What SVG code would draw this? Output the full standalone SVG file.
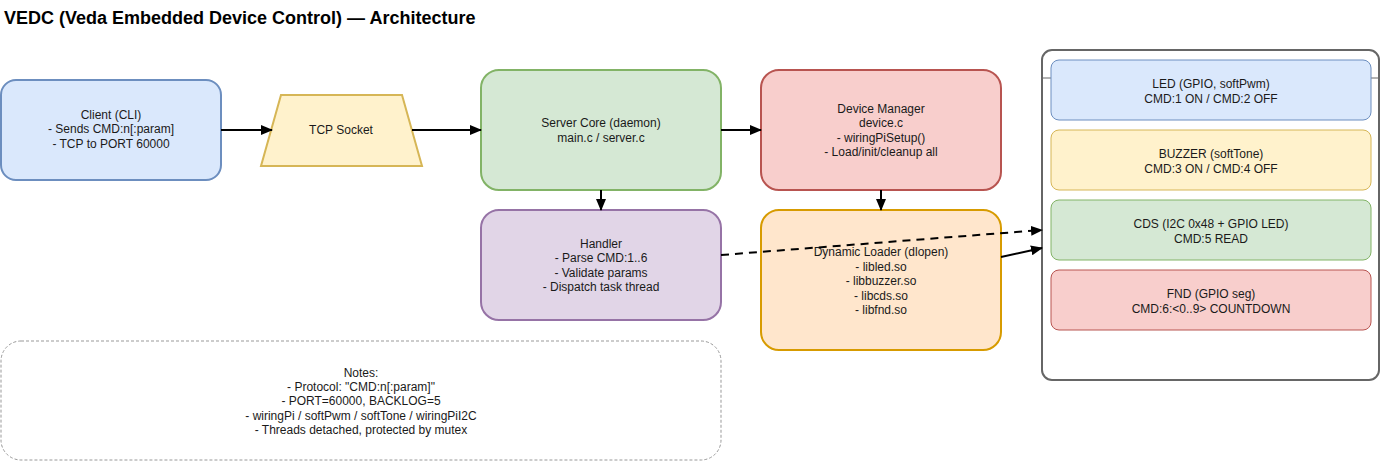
<svg xmlns="http://www.w3.org/2000/svg" width="1382" height="461" viewBox="0 0 1382 461">
<style>
text{font-family:"Liberation Sans",Arial,sans-serif;font-size:12px;fill:#1a1a1a;text-anchor:middle}
.title{font-size:18px;font-weight:bold;text-anchor:start;fill:#000}
.note{font-size:12px}
.c{stroke:#000;stroke-width:2;fill:none}
.box{stroke-width:2}
</style>
<defs>
<marker id="ah" markerWidth="12" markerHeight="10" refX="11" refY="5" orient="auto" markerUnits="userSpaceOnUse">
<path d="M0,0 L12,5 L0,10 Z" fill="#000"/>
</marker>
</defs>
<text class="title" x="4" y="24">VEDC (Veda Embedded Device Control) — Architecture</text>

<g id="client">
<rect class="box" x="1" y="80" width="220" height="100" rx="15" fill="#dae8fc" stroke="#6c8ebf"/>
<text x="111" y="119">Client (CLI)</text>
<text x="111" y="133">- Sends CMD:n[:param]</text>
<text x="111" y="148">- TCP to PORT 60000</text>
</g>
<g id="tcp">
<polygon class="box" points="281,95 402,95 422,166 261,166" fill="#fff2cc" stroke="#d6b656"/>
<text x="341" y="134">TCP Socket</text>
</g>
<g id="server">
<rect class="box" x="481" y="70" width="240" height="120" rx="18" fill="#d5e8d4" stroke="#82b366"/>
<text x="601" y="127">Server Core (daemon)</text>
<text x="601" y="142">main.c / server.c</text>
</g>
<g id="devmgr">
<rect class="box" x="761" y="70" width="240" height="120" rx="18" fill="#f8cecc" stroke="#b85450"/>
<text x="881" y="113">Device Manager</text>
<text x="881" y="127">device.c</text>
<text x="881" y="142">- wiringPiSetup()</text>
<text x="881" y="156">- Load/init/cleanup all</text>
</g>
<g id="handler">
<rect class="box" x="481" y="210" width="240" height="110" rx="18" fill="#e1d5e7" stroke="#9673a6"/>
<text x="601" y="248">Handler</text>
<text x="601" y="262">- Parse CMD:1..6</text>
<text x="601" y="277">- Validate params</text>
<text x="601" y="291">- Dispatch task thread</text>
</g>
<g id="loader">
<rect class="box" x="761" y="210" width="240" height="140" rx="18" fill="#ffe6cc" stroke="#d79b00"/>
<text x="881" y="256">Dynamic Loader (dlopen)</text>
<text x="881" y="271">- libled.so</text>
<text x="881" y="285">- libbuzzer.so</text>
<text x="881" y="300">- libcds.so</text>
<text x="881" y="314">- libfnd.so</text>
</g>
<g id="devices">
<rect x="1042" y="50" width="337" height="330" rx="10" fill="#fff" stroke="#666" stroke-width="2"/>
<line x1="1042" y1="78" x2="1379" y2="78" stroke="#666" stroke-width="1"/>
</g>
<g id="led">
<rect x="1051" y="60" width="320" height="60" rx="8" fill="#dae8fc" stroke="#6c8ebf"/>
<text x="1211" y="88">LED (GPIO, softPwm)</text>
<text x="1211" y="103">CMD:1 ON / CMD:2 OFF</text>
</g>
<g id="buzzer">
<rect x="1051" y="130" width="320" height="60" rx="8" fill="#fff2cc" stroke="#d6b656"/>
<text x="1211" y="158">BUZZER (softTone)</text>
<text x="1211" y="173">CMD:3 ON / CMD:4 OFF</text>
</g>
<g id="cds">
<rect x="1051" y="200" width="320" height="60" rx="8" fill="#d5e8d4" stroke="#82b366"/>
<text x="1211" y="228">CDS (I2C 0x48 + GPIO LED)</text>
<text x="1211" y="243">CMD:5 READ</text>
</g>
<g id="fnd">
<rect x="1051" y="270" width="320" height="60" rx="8" fill="#f8cecc" stroke="#b85450"/>
<text x="1211" y="298">FND (GPIO seg)</text>
<text x="1211" y="313">CMD:6:&lt;0..9&gt; COUNTDOWN</text>
</g>
<g id="notes">
<rect x="1" y="341" width="720" height="119" rx="20" fill="#fff" stroke="#999" stroke-dasharray="3,2"/>
<text class="note" x="361" y="377">Notes:</text>
<text class="note" x="361" y="391">- Protocol: "CMD:n[:param]"</text>
<text class="note" x="361" y="405">- PORT=60000, BACKLOG=5</text>
<text class="note" x="361" y="420">- wiringPi / softPwm / softTone / wiringPiI2C</text>
<text class="note" x="361" y="434">- Threads detached, protected by mutex</text>
</g>
<g id="connectors">
<line class="c" x1="221" y1="130" x2="272" y2="130" marker-end="url(#ah)"/>
<line class="c" x1="412" y1="130" x2="481" y2="130" marker-end="url(#ah)"/>
<line class="c" x1="721" y1="130" x2="761" y2="130" marker-end="url(#ah)"/>
<line class="c" x1="601" y1="190" x2="601" y2="210" marker-end="url(#ah)"/>
<line class="c" x1="881" y1="190" x2="881" y2="210" marker-end="url(#ah)"/>
<line class="c" x1="721" y1="255" x2="1042" y2="230" stroke-dasharray="8,6" marker-end="url(#ah)"/>
<line class="c" x1="1001" y1="257" x2="1042" y2="248" marker-end="url(#ah)"/>
</g>
</svg>
